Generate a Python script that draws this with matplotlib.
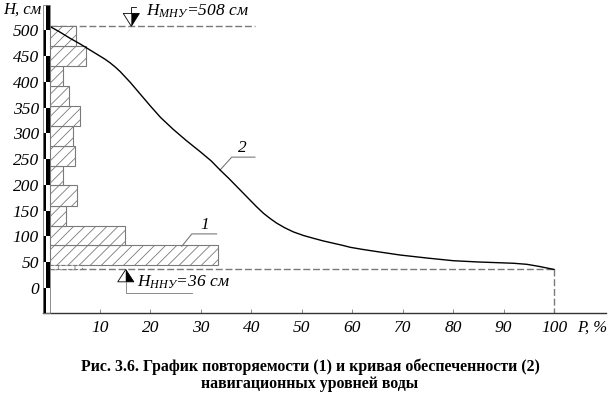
import matplotlib.pyplot as plt
from matplotlib.patches import Rectangle, Polygon

plt.rcParams['font.family'] = ['Liberation Serif', 'DejaVu Serif']
plt.rcParams['mathtext.fontset'] = 'custom'
plt.rcParams['mathtext.it'] = 'Liberation Serif:italic'
plt.rcParams['mathtext.rm'] = 'Liberation Serif'
plt.rcParams['hatch.linewidth'] = 0.6

# histogram of water levels (curve 1): bin edges, cm, and repeatability, %
bin_edges = [44, 83, 121, 160, 199, 237, 276, 315, 353, 392, 431, 469, 508]
freq = [33.3, 14.9, 3.3, 5.4, 2.7, 5.0, 4.6, 6.0, 3.8, 2.7, 7.2, 5.2]
low_bin = (36, 44)
low_freq = 6.5

# duration curve (curve 2): P, % and H, cm
curve_p = [0, 2, 4, 6, 8, 10, 11, 12, 13, 14, 16, 18, 20, 22, 24.5, 27, 29.8,
           32, 33.8, 35.5, 37.1, 38.5, 39.7, 41, 42.4, 43.7, 45, 46.6, 48.3,
           50.3, 52.3, 54.2, 56.2, 58, 59.6, 62, 65, 69.5, 75, 80, 85, 89.3,
           92, 94.6, 97, 100]
curve_h = [508, 497, 485, 474, 462, 450, 444, 437, 429, 420, 399, 376, 353,
           331, 308, 287, 265, 247, 229, 213, 197, 183, 171, 158, 145, 135,
           126, 117, 109, 102, 96.5, 91.5, 87, 83, 79, 75, 70.5, 64, 58, 53,
           50.5, 49, 48, 46, 42, 36]

h_max = 508   # H МНУ
h_min = 36    # H ННУ

y_ticks = list(range(0, 501, 50))
x_ticks = list(range(10, 101, 10))

fig = plt.figure(figsize=(6.09, 3.98), dpi=100)
ax = fig.add_axes([43 / 609, 85 / 398, 563 / 609, 313 / 398])
ax.set_xlim(-1.31, 110.3)
ax.set_ylim(-48.5, 559)

gray = '#7a7a7a'

# histogram
centers = [(a + b) / 2 for a, b in zip(bin_edges[:-1], bin_edges[1:])]
heights = [b - a for a, b in zip(bin_edges[:-1], bin_edges[1:])]
ax.barh(centers, freq, height=heights, left=0, facecolor='white',
        edgecolor=gray, hatch='///', linewidth=0.8, zorder=2)
ax.barh((low_bin[0] + low_bin[1]) / 2, low_freq, height=low_bin[1] - low_bin[0],
        left=0, facecolor='white', edgecolor=gray, hatch='|', linestyle='--',
        linewidth=0.8, zorder=2)

# level lines
dash = (0, (5, 2))
ax.plot([0, 40.7], [h_max, h_max], color=gray, lw=1, ls=dash, zorder=1)
ax.plot([0, 100], [h_min, h_min], color=gray, lw=1, ls=dash, zorder=1)
ax.plot([100, 100], [h_min, -48.5], color=gray, lw=1, ls=dash, zorder=1)

# curve 2
ax.plot(curve_p, curve_h, color='black', lw=1.0, zorder=3)

# leader lines and curve numbers
ax.plot([33.8, 36.1, 40.7], [229, 254, 254], color=gray, lw=0.8)
ax.text(38.3, 256, '2', fontsize=12.5, style='italic', ha='center', va='bottom')
ax.plot([26.2, 28.2, 33.1], [81, 105, 105], color=gray, lw=0.8)
ax.text(30.8, 107, '1', fontsize=12.5, style='italic', ha='center', va='bottom')

# level staff instead of the left spine
for k in range(-1, 11):
    x0 = -1.31 if k % 2 else -0.65
    ax.add_patch(Rectangle((x0, k * 50), 0.65, 50, facecolor='black',
                           edgecolor='none', zorder=4, clip_on=False))
ax.add_patch(Rectangle((-1.31, -48.5), 1.31, 598.5, facecolor='none',
                       edgecolor=gray, lw=0.6, zorder=4, clip_on=False))

# МНУ marker
tx = 16.2
ax.add_patch(Polygon([(tx - 1.6, h_max + 25), (tx + 1.6, h_max + 25), (tx, h_max)],
                     closed=True, facecolor='white', edgecolor='black', lw=0.6, zorder=5))
ax.add_patch(Polygon([(tx, h_max + 25), (tx + 1.6, h_max + 25), (tx, h_max)],
                     closed=True, facecolor='black', edgecolor='none', zorder=5))
ax.plot([tx, tx, tx + 1.0], [h_max + 25, h_max + 38, h_max + 38], color='black', lw=0.6, zorder=5)
ax.text(tx + 3.0, h_max + 30, r'$H_{МНУ}$=508 см', fontsize=12.5, style='italic',
        ha='left', va='center')

# ННУ marker
bx = 15.1
ax.add_patch(Polygon([(bx - 1.6, h_min - 24), (bx + 1.6, h_min - 24), (bx, h_min)],
                     closed=True, facecolor='white', edgecolor='black', lw=0.6, zorder=5))
ax.add_patch(Polygon([(bx, h_min - 24), (bx + 1.6, h_min - 24), (bx, h_min)],
                     closed=True, facecolor='black', edgecolor='none', zorder=5))
ax.plot([bx, bx, 28.3], [h_min - 24, h_min - 45, h_min - 45], color=gray, lw=0.6, zorder=5)
ax.text(bx + 2.3, h_min - 24, r'$H_{ННУ}$=36 см', fontsize=12.5, style='italic',
        ha='left', va='center')

# axes styling
for s in ['top', 'right', 'left']:
    ax.spines[s].set_visible(False)
ax.spines['bottom'].set_linewidth(1.0)
ax.spines['bottom'].set_color('#333333')
ax.set_yticks(y_ticks)
ax.set_yticklabels([str(v) for v in y_ticks], fontsize=12.5, style='italic')
ax.tick_params(axis='y', length=0, pad=3)
ax.set_xticks(x_ticks)
ax.set_xticklabels([str(v) for v in x_ticks], fontsize=12.5, style='italic')
ax.tick_params(axis='x', direction='in', length=3, width=0.6, pad=5, color=gray)

fig.text(3 / 609, 1 - 10 / 398, 'H, см', fontsize=12, style='italic', ha='left', va='center')
fig.text(607 / 609, 1 - 328 / 398, 'P, %', fontsize=12, style='italic', ha='right', va='center')

fig.text(310 / 609, 1 - 367 / 398, 'Рис. 3.6. График повторяемости (1) и кривая обеспеченности (2)',
         fontsize=11.4, fontweight='bold', ha='center', va='center')
fig.text(310 / 609, 1 - 384 / 398, 'навигационных уровней воды',
         fontsize=11.4, fontweight='bold', ha='center', va='center')

fig.savefig('out.png', dpi=100)
